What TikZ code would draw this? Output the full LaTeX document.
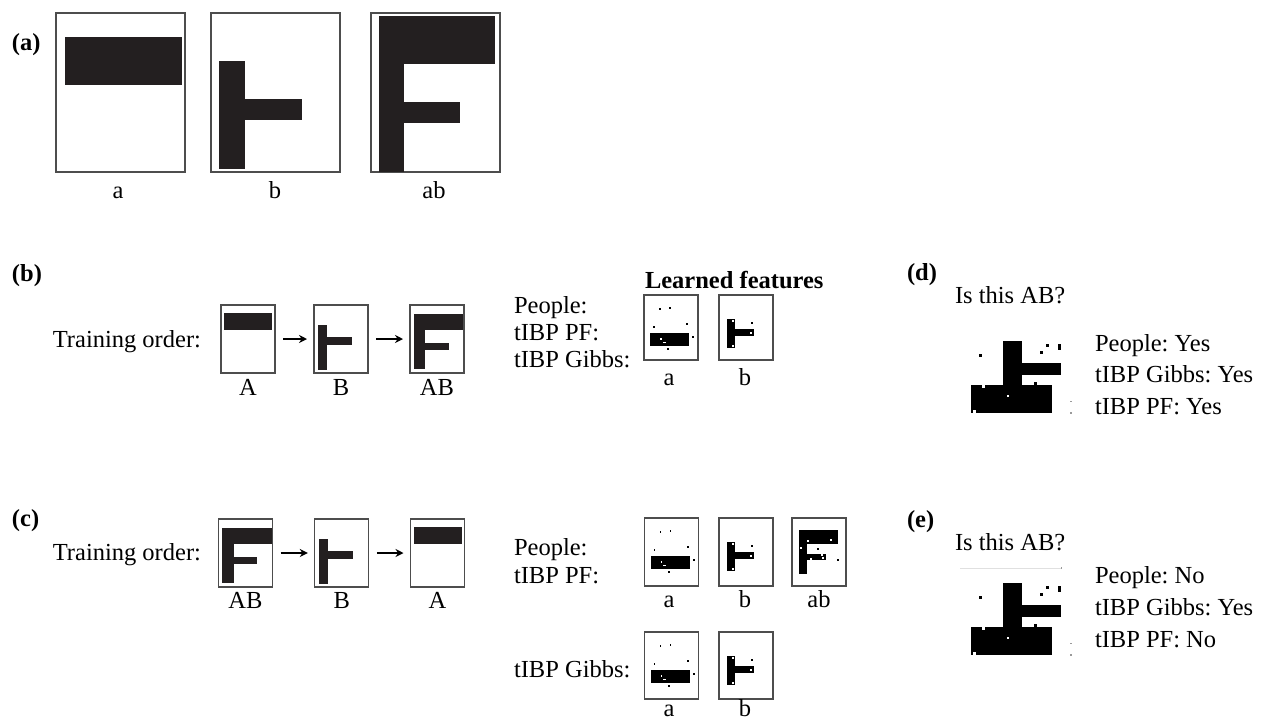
\documentclass[tikz,border=0pt]{standalone}
\usepackage{fontspec}
\setmainfont{Liberation Serif}
\usetikzlibrary{arrows.meta}
\frenchspacing
\definecolor{ink}{HTML}{231F20}
\definecolor{frame}{HTML}{4D4D4D}
\definecolor{speck}{HTML}{9A9A9A}
\tikzset{
  lbl/.style={inner sep=0pt, outer sep=0pt, font=\fontsize{24.5}{29}\selectfont},
  tag/.style={lbl, anchor=base west, font=\fontsize{24.5}{29}\selectfont\bfseries},
  bigframe/.style={draw=frame, line width=1.4pt, inner sep=0pt, outer sep=0pt,
                   minimum width=129pt, minimum height=159pt},
  trainframe/.style={draw=frame, line width=1.3pt, inner sep=0pt, outer sep=0pt,
                   minimum width=54pt, minimum height=68pt},
  featframe/.style={draw=frame, line width=1.2pt, inner sep=0pt, outer sep=0pt,
                   minimum width=54pt, minimum height=67pt},
  order/.style={-{Stealth[length=8pt,width=8pt]}, line width=1.6pt,
                shorten <=8pt, shorten >=7pt},
}
% single pixels of the learned feature images
\newcommand\pixB[2]{\fill[black] (#1-0.9,#2-0.9) rectangle ++(1.8,1.8);}
\newcommand\pixW[2]{\fill[white] (#1-0.9,#2-0.9) rectangle ++(1.8,1.8);}
% large stimulus images (coordinates from the frame's top left corner)
\newcommand\bigA{\fill[ink] (9,24) rectangle (126,72);}
\newcommand\bigB{\fill[ink] (8,48) rectangle (34,156);
                 \fill[ink] (34,86) rectangle (91,107);}
\newcommand\bigAB{\fill[ink] (8,3) rectangle (124,51);
                  \fill[ink] (8,51) rectangle (33,159);
                  \fill[ink] (33,89) rectangle (89,110);}
% small training images
\newcommand\trA{\fill[ink] (3,7.5) rectangle (51,24.5);}
\newcommand\trB{\fill[ink] (4,20) rectangle (13.2,65);
                \fill[ink] (13.2,32) rectangle (38.2,39.5);}
\newcommand\trAB{\fill[ink] (3.7,8.7) rectangle (53,24.7);
                 \fill[ink] (3.7,24.7) rectangle (15,63.5);
                 \fill[ink] (15,37.8) rectangle (38.5,45);}
% learned features
\newcommand\featA{\fill[black] (6,37.5) rectangle (45.3,51.2);
  \pixB{16}{14.3}\pixB{26}{12.7}\pixB{10}{32.3}\pixB{43.3}{29.3}
  \pixB{49.3}{42.3}\pixB{24.3}{54.3}
  \pixW{17}{44.3}\fill[white] (18.5,46.6) rectangle (21.8,48);}
\newcommand\featB{\fill[black] (7.7,24.3) rectangle (16.3,53.3);
  \fill[black] (16.3,34.3) rectangle (35,40.7);
  \pixB{33}{27.7}\pixW{14}{26.3}\pixW{31.7}{38.3}\pixW{14}{50.7}}
\newcommand\featAB{\fill[black] (6.7,12.3) rectangle (45.7,25.7);
  \fill[black] (6.7,25.7) rectangle (15,55.7);
  \fill[black] (15,36) rectangle (34,42.3);
  \pixW{16}{23.3}\pixW{39}{22}\pixW{8.7}{29.7}\pixW{29.7}{36.7}
  \pixW{19.3}{41}\pixW{31}{40}\pixB{26}{30.7}\pixB{46.3}{42.3}}
% test image of panels (d) and (e)
\newcommand\probe{
  \fill[black] (970.7,385) rectangle (1051.7,413.3);
  \fill[black] (1003.3,341) rectangle (1021.7,385);
  \fill[black] (1021.7,363.3) rectangle (1060.7,375);
  \fill[black] (979.2,353.5) rectangle ++(3,3);
  \fill[black] (1039.5,350.5) rectangle ++(3,3);
  \fill[black] (1045.8,343.8) rectangle ++(3,3);
  \fill[black] (1058.3,344) rectangle (1060.5,350);
  \fill[black] (1034,381.7) rectangle (1036.7,385);
  \fill[white] (982.3,385) rectangle (985,388.3);
  \fill[white] (1006.7,394.7) rectangle (1009.3,397.3);
  \fill[white] (972.7,410) rectangle (976,413.3);
  \fill[speck] (1070.4,401) rectangle ++(1.3,1.3);
  \fill[speck] (1070.4,412.3) rectangle ++(1.3,1.3);}

\begin{document}
\begin{tikzpicture}[x=1pt,y=-1pt]
\useasboundingbox (0,0) rectangle (1262,721);
\fill[white] (0,0) rectangle (1262,721);

% ---------------- (a) the three stimuli
\node[tag] (ta) at (12,50) {(a)};
\node[bigframe] (sa) at (120.5,92.5) {};
\node[bigframe] (sb) at (275.5,92.5) {};
\node[bigframe] (sab) at (435.5,92.5) {};
\begin{scope}[shift={(sa.north west)}]\bigA\end{scope}
\begin{scope}[shift={(sb.north west)}]\bigB\end{scope}
\begin{scope}[shift={(sab.north west)}]\bigAB\end{scope}
\node[lbl, anchor=base] (la) at (118,198) {a};
\node[lbl, anchor=base] (lb) at (275,198) {b};
\node[lbl, anchor=base] (lab) at (434,198) {ab};

% ---------------- (b) training A, B, AB
\node[tag] (tb) at (12,281) {(b)};
\node[lbl, anchor=base east] (ob) at (201,347) {Training order:};
\node[trainframe] (bA) at (248,339) {};
\node[trainframe] (bB) at (341,339) {};
\node[trainframe] (bAB) at (437,339) {};
\begin{scope}[shift={(bA.north west)}]\trA\end{scope}
\begin{scope}[shift={(bB.north west)}]\trB\end{scope}
\begin{scope}[shift={(bAB.north west)}]\trAB\end{scope}
\draw[order] (bA.east) -- (bB.west);
\draw[order] (bB.east) -- (bAB.west);
\node[lbl, anchor=base] (lbA) at (248,395) {A};
\node[lbl, anchor=base] (lbB) at (341,395) {B};
\node[lbl, anchor=base] (lbAB) at (437,395) {AB};

\node[lbl, anchor=base west, font=\fontsize{24.5}{29}\selectfont\bfseries] (lf) at (645,288) {Learned features};
\node[lbl, anchor=base west] (bp1) at (514,313) {People:};
\node[lbl, anchor=base west] (bp2) at (514,340) {tIBP PF:};
\node[lbl, anchor=base west] (bp3) at (514,367) {tIBP Gibbs:};
\node[featframe, minimum height=65pt] (bfa) at (671,327.5) {};
\node[featframe, minimum height=65pt] (bfb) at (746,327.5) {};
\begin{scope}[shift={(bfa.north west)}]\featA\end{scope}
\begin{scope}[shift={(bfb.north west)}]\featB\end{scope}
\node[lbl, anchor=base] (lbfa) at (669,385) {a};
\node[lbl, anchor=base] (lbfb) at (745,385) {b};

% ---------------- (c) training AB, B, A
\node[tag] (tc) at (12,526) {(c)};
\node[lbl, anchor=base east] (oc) at (201,560) {Training order:};
\node[trainframe] (cAB) at (245.5,553) {};
\node[trainframe] (cB) at (341.8,553) {};
\node[trainframe] (cA) at (437.5,553) {};
\begin{scope}[shift={(cAB.north west)}]\trAB\end{scope}
\begin{scope}[shift={(cB.north west)}]\trB\end{scope}
\begin{scope}[shift={(cA.north west)}]\trA\end{scope}
\draw[order] (cAB.east) -- (cB.west);
\draw[order] (cB.east) -- (cA.west);
\node[lbl, anchor=base] (lcAB) at (245.5,608) {AB};
\node[lbl, anchor=base] (lcB) at (341.8,608) {B};
\node[lbl, anchor=base] (lcA) at (437.5,608) {A};

\node[lbl, anchor=base west] (cp1) at (514,555) {People:};
\node[lbl, anchor=base west] (cp2) at (514,583) {tIBP PF:};
\node[featframe, minimum height=68pt] (cfa) at (671.5,552) {};
\node[featframe, minimum height=68pt] (cfb) at (746,552) {};
\node[featframe, minimum height=68pt] (cfab) at (819,552) {};
\begin{scope}[shift={(cfa.north west)}]\featA\end{scope}
\begin{scope}[shift={(cfb.north west)}]\featB\end{scope}
\begin{scope}[shift={(cfab.north west)}]\featAB\end{scope}
\node[lbl, anchor=base] (lcfa) at (669,607) {a};
\node[lbl, anchor=base] (lcfb) at (745,607) {b};
\node[lbl, anchor=base] (lcfab) at (819,607) {ab};

\node[lbl, anchor=base west] (cp3) at (514,677) {tIBP Gibbs:};
\node[featframe] (gfa) at (671.5,665.5) {};
\node[featframe] (gfb) at (746,665.5) {};
\begin{scope}[shift={(gfa.north west)}]\featA\end{scope}
\begin{scope}[shift={(gfb.north west)}]\featB\end{scope}
\node[lbl, anchor=base] (lgfa) at (669,716) {a};
\node[lbl, anchor=base] (lgfb) at (745,716) {b};

% ---------------- (d) test with answers
\node[tag] (td) at (907,280) {(d)};
\node[lbl, anchor=base west] (qd) at (955,303) {Is this AB?};
\probe
\node[lbl, anchor=base west] (d1) at (1095,351) {People: Yes};
\node[lbl, anchor=base west] (d2) at (1095,382) {tIBP Gibbs: Yes};
\node[lbl, anchor=base west] (d3) at (1095,414) {tIBP PF: Yes};

% ---------------- (e) same test, other training order
\node[tag] (te) at (907,527) {(e)};
\node[lbl, anchor=base west] (qe) at (955,550) {Is this AB?};
\begin{scope}[shift={(0,242)}]
  \probe
  \draw[black!12, line width=0.7pt] (960,326) -- (1061,326);
  \fill[speck] (1060.5,325.3) rectangle ++(1.4,1.6);
\end{scope}
\node[lbl, anchor=base west] (e1) at (1095,583) {People: No};
\node[lbl, anchor=base west] (e2) at (1095,615) {tIBP Gibbs: Yes};
\node[lbl, anchor=base west] (e3) at (1095,647) {tIBP PF: No};
\end{tikzpicture}
\end{document}
